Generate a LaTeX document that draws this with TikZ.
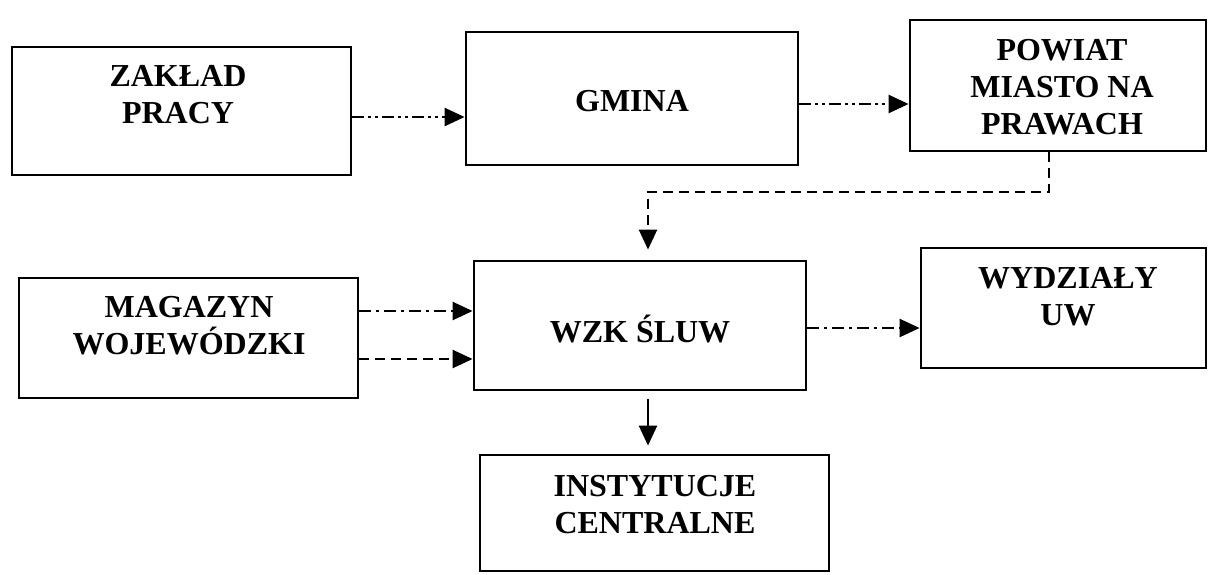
\documentclass[tikz,border=0pt]{standalone}
\usepackage{fontspec}
\setmainfont{Liberation Serif}
\usetikzlibrary{arrows.meta}
\begin{document}
\begin{tikzpicture}[x=0.5pt,y=-0.5pt,
  box/.style={draw,line width=1.4pt,inner sep=0pt},
  lbl/.style={font=\bfseries\fontsize{16}{18.5}\selectfont,align=center,inner sep=0pt},
  arr/.style={line width=1.2pt,-{Triangle[length=10pt,width=9pt]}},
  dashdotdot/.style={dash pattern=on 6pt off 2pt on 1.5pt off 2pt on 1.5pt off 2pt},
  dashdot/.style={dash pattern=on 6pt off 2.5pt on 1.5pt off 2.5pt},
  dashedline/.style={dash pattern=on 5pt off 3pt}]
\useasboundingbox (0,0) rectangle (1209,574);
% boxes
\node[box,minimum width=169.5pt,minimum height=64pt] (zaklad) at (181.5,111) {};
\node[box,minimum width=166pt,minimum height=66.5pt] (gmina) at (632,98.5) {};
\node[box,minimum width=148pt,minimum height=65.5pt] (powiat) at (1058,85.5) {};
\node[box,minimum width=169.5pt,minimum height=60pt] (magazyn) at (188.5,338) {};
\node[box,minimum width=166pt,minimum height=64.5pt] (wzk) at (640,325.5) {};
\node[box,minimum width=142.5pt,minimum height=60pt] (wydzialy) at (1063.5,308) {};
\node[box,minimum width=174.5pt,minimum height=58pt] (instyt) at (654.5,513) {};
% labels
\node[lbl] (zakladtxt) at (178,95) {ZAKŁAD\\PRACY};
\node[lbl] (gminatxt) at (632,101) {GMINA};
\node[lbl] (powiattxt) at (1062,87) {POWIAT\\MIASTO NA\\PRAWACH};
\node[lbl] (magazyntxt) at (189,326) {MAGAZYN\\WOJEWÓDZKI};
\node[lbl] (wzktxt) at (640,329) {WZK ŚLUW};
\node[lbl] (wydzialytxt) at (1068,297) {WYDZIAŁY\\UW};
\node[lbl] (instyttxt) at (655,505) {INSTYTUCJE\\CENTRALNE};
% connectors
\draw[arr,dashdotdot] ([yshift=-3pt]zaklad.east) -- ([yshift=-3pt]zaklad.east -| gmina.west);
\draw[arr,dashdotdot] ([yshift=-2.75pt]gmina.east) -- ([yshift=-2.75pt]gmina.east -| powiat.west);
\coordinate (bend) at (848,192);
\draw[arr,dashedline,shorten >=5pt] ([xshift=-4.5pt]powiat.south) |- (bend) -| ([xshift=4pt]wzk.north);
\draw[arr,dashdot] ([yshift=13.5pt]magazyn.east) -- ([yshift=13.5pt]magazyn.east -| wzk.west);
\draw[arr,dashedline] ([yshift=-10.5pt]magazyn.east) -- ([yshift=-10.5pt]magazyn.east -| wzk.west);
\draw[arr,dashdot] ([yshift=-1.25pt]wzk.east) -- ([yshift=-1.25pt]wzk.east -| wydzialy.west);
\draw[arr,shorten >=4pt,shorten <=4pt] ([xshift=4pt]wzk.south) -- ([xshift=4pt]wzk.south |- instyt.north);
\end{tikzpicture}
\end{document}
